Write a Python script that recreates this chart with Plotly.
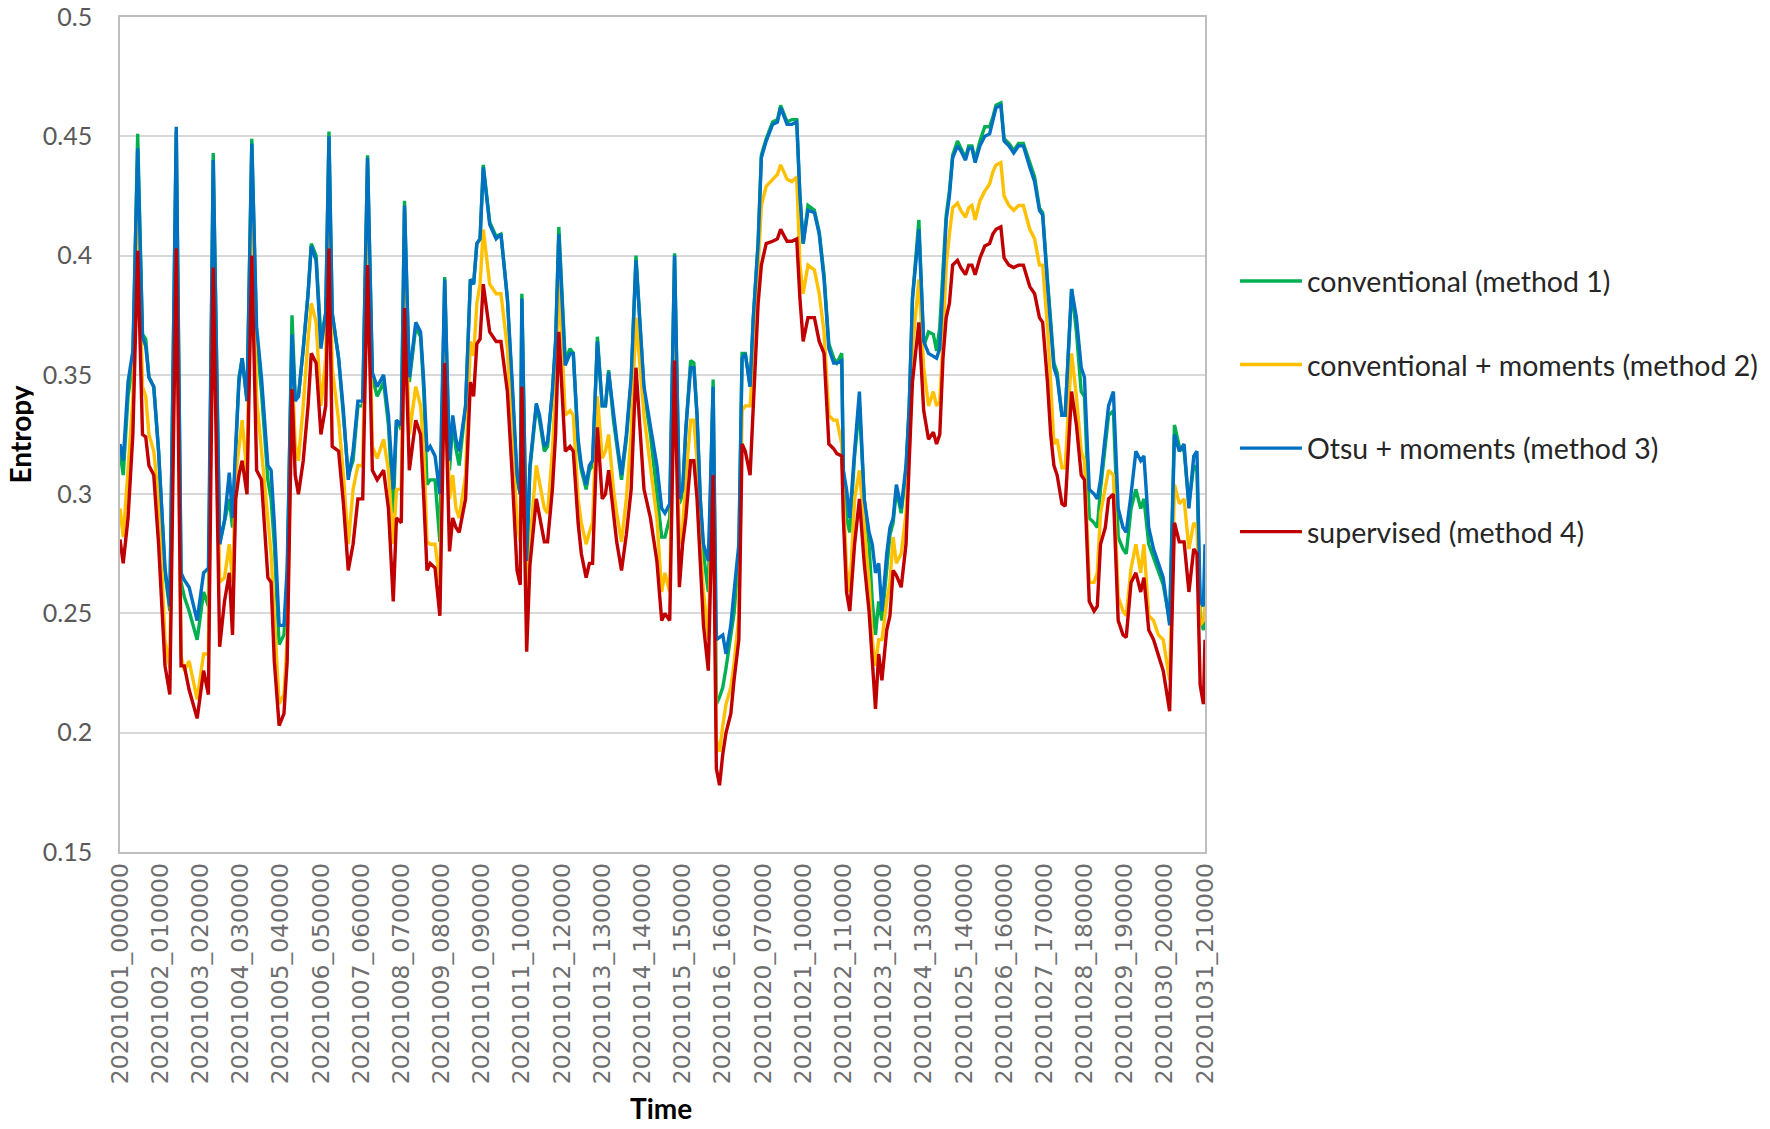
import plotly.graph_objects as go

# sample position (hour index along the category axis)
hour_index = [0, 2, 5, 8, 11, 14, 16, 18, 21, 24, 28, 31, 35, 38, 40, 43, 48, 52, 55, 58,
              62, 65, 68, 70, 72, 74, 76, 79, 82, 85, 88, 92, 94, 96, 99, 102, 104, 107, 109, 111,
              114, 117, 119, 122, 125, 128, 130, 132, 136, 139, 142, 145, 148, 151, 154, 157, 160, 164, 167, 170,
              172, 175, 177, 180, 184, 187, 189, 191, 193, 196, 199, 202, 205, 207, 209, 211, 215, 218, 220, 222,
              224, 226, 230, 234, 237, 241, 244, 247, 249, 250, 253, 255, 259, 261, 264, 266, 269, 271, 273, 277,
              280, 282, 285, 287, 290, 292, 294, 297, 300, 302, 304, 307, 309, 312, 315, 318, 321, 326, 330, 334, 337,
              339, 342, 345, 348, 350, 352, 355, 357, 359, 361, 363, 366, 369, 371, 373, 375, 377, 380, 382, 385,
              387, 389, 392, 394, 397, 399, 402, 406, 409, 411, 415, 418, 421, 423, 425, 428, 432, 435, 438, 441,
              444, 446, 449, 450, 452, 454, 457, 460, 463, 466, 468, 470, 472, 474, 477, 479, 481, 483, 486, 489,
              491, 493, 497, 500, 503, 506,
              508, 510, 512, 514, 516, 518, 521, 523, 526, 528, 530, 532, 535, 538, 541, 543, 545, 548, 550, 553,
              556, 559, 562, 566, 569, 572, 574, 577, 579, 581, 583, 586, 588, 592, 595, 598, 600, 603, 606, 608,
              610, 613, 615, 618, 621, 624, 626, 629, 632, 635, 637, 640, 643, 646, 649, 653, 656, 659, 662, 665,
              668, 670, 672, 674, 675]

conventional = [
    .318, .308, .341, .355, .451, .367, .365, .349, .345, .318, .267, .251, .452, .263, .257, .251, .239, .259, .253, .443,
    .279, .289, .298, .286, .319, .349, .357, .339, .449, .365, .343, .306, .298, .279, .237, .241, .263, .375, .341, .341,
    .361, .384, .405, .400, .365, .376, .452, .376, .357, .333, .308, .314, .337, .337, .442, .349, .341, .347, .329, .292,
    .331, .327, .423, .347, .370, .366, .343, .304, .306, .306, .280, .391, .310, .331, .319, .312, .337, .390, .388, .405,
    .407, .438, .414, .408, .409, .382, .345, .306, .300, .384, .270, .310, .337, .331, .318, .320, .343, .364, .412, .356,
    .361, .359, .320, .310, .302, .310, .312, .366, .337, .337, .352, .331, .321, .306, .323, .347, .400, .343, .325, .302, .282,
    .282, .290, .401, .296, .300, .327, .356, .355, .333, .298, .275, .259, .348, .212, .215, .219, .227, .240, .250, .275,
    .359, .359, .345, .374, .406, .442, .449, .456, .457, .463, .456, .457, .457, .425, .405, .421, .419, .410, .392, .363,
    .357, .355, .359, .310, .290, .284, .316, .337, .298, .279, .255, .241, .255, .247, .270, .283, .288, .302, .292, .310,
    .337, .382, .415, .362, .368, .367,
    .360, .370, .394, .417, .427, .442, .448, .445, .441, .446, .446, .440, .448, .454, .454, .458, .463, .464, .449, .447,
    .444, .447, .447, .439, .433, .420, .418, .390, .372, .355, .351, .333, .333, .386, .368, .343, .341, .290, .288, .286,
    .302, .321, .333, .335, .282, .277, .275, .294, .302, .294, .298, .279, .273, .268, .262, .247, .329, .320, .318, .296,
    .312, .310, .249, .243, .249]

conventional_moments = [
    .294, .282, .310, .340, .427, .345, .341, .325, .318, .298, .239, .227, .429, .232, .226, .230, .214, .233, .233, .420,
    .263, .265, .279, .263, .308, .320, .331, .308, .428, .340, .318, .288, .275, .249, .212, .216, .239, .353, .321, .314,
    .337, .365, .380, .372, .337, .357, .429, .353, .331, .308, .279, .302, .312, .312, .423, .320, .315, .323, .310, .279,
    .302, .302, .392, .325, .345, .337, .318, .280, .279, .279, .263, .360, .298, .308, .294, .290, .308, .364, .358, .380,
    .388, .411, .388, .384, .384, .361, .327, .288, .280, .360, .259, .280, .312, .304, .294, .292, .318, .345, .390, .333,
    .335, .333, .298, .288, .279, .284, .288, .341, .315, .318, .325, .302, .292, .280, .298, .325, .374, .333, .311, .290, .259,
    .267, .259, .376, .279, .286, .306, .331, .331, .314, .279, .259, .239, .320, .197, .192, .203, .212, .219, .229, .249,
    .335, .337, .337, .357, .392, .421, .429, .432, .434, .438, .432, .431, .433, .396, .384, .396, .394, .384, .368, .333,
    .331, .331, .321, .300, .269, .259, .298, .310, .286, .263, .239, .228, .239, .239, .255, .263, .282, .271, .275, .292,
    .318, .361, .390, .353, .337, .343,
    .337, .339, .364, .396, .409, .420, .422, .419, .416, .420, .421, .415, .423, .427, .430, .435, .438, .439, .425, .421,
    .419, .421, .421, .411, .407, .396, .396, .370, .347, .321, .323, .311, .311, .359, .341, .318, .314, .263, .263, .267,
    .292, .302, .310, .308, .257, .251, .249, .269, .279, .267, .279, .249, .247, .241, .239, .222, .304, .296, .298, .277,
    .288, .286, .245, .247, .253]

otsu_moments = [
    .321, .314, .347, .360, .445, .366, .362, .349, .345, .318, .269, .253, .454, .267, .264, .261, .247, .267, .269, .440,
    .279, .289, .309, .290, .321, .347, .357, .339, .447, .370, .349, .312, .310, .288, .245, .245, .269, .367, .339, .341,
    .361, .384, .404, .398, .361, .376, .450, .376, .357, .335, .306, .318, .339, .339, .441, .351, .345, .350, .333, .302,
    .331, .329, .421, .349, .372, .368, .347, .318, .320, .316, .300, .390, .314, .333, .323, .318, .337, .390, .388, .405,
    .407, .437, .413, .407, .409, .382, .347, .308, .300, .382, .272, .312, .338, .333, .320, .322, .343, .364, .409, .354,
    .359, .359, .323, .312, .304, .312, .314, .364, .337, .337, .351, .333, .323, .308, .325, .349, .398, .345, .329, .312, .294,
    .292, .296, .400, .298, .302, .327, .353, .353, .333, .298, .279, .272, .345, .239, .240, .241, .233, .245, .259, .279,
    .357, .359, .345, .374, .405, .441, .448, .455, .456, .462, .455, .455, .456, .425, .405, .419, .418, .409, .390, .361,
    .355, .355, .356, .310, .302, .290, .318, .343, .298, .284, .279, .267, .271, .251, .275, .286, .290, .304, .294, .312,
    .337, .382, .411, .364, .359, .358,
    .357, .361, .392, .415, .425, .441, .446, .444, .440, .445, .445, .439, .446, .450, .451, .457, .462, .463, .448, .446,
    .443, .446, .446, .437, .431, .419, .417, .388, .370, .353, .349, .333, .333, .386, .374, .353, .349, .302, .300, .298,
    .306, .325, .337, .343, .294, .286, .284, .300, .318, .314, .316, .286, .277, .271, .265, .245, .325, .318, .321, .294,
    .316, .318, .255, .253, .279]

supervised = [
    .281, .271, .290, .325, .402, .325, .324, .312, .308, .279, .228, .216, .403, .228, .228, .218, .206, .226, .216, .395,
    .236, .255, .267, .241, .298, .308, .314, .300, .400, .310, .306, .265, .263, .230, .203, .208, .230, .344, .308, .300,
    .314, .337, .359, .355, .325, .337, .403, .320, .318, .296, .268, .279, .298, .298, .396, .310, .306, .310, .294, .255,
    .290, .288, .378, .310, .331, .325, .298, .268, .271, .269, .249, .355, .276, .290, .286, .284, .298, .347, .341, .363,
    .365, .388, .368, .364, .364, .343, .308, .268, .262, .345, .234, .270, .298, .290, .280, .280, .302, .325, .368, .318,
    .320, .318, .288, .275, .265, .271, .271, .328, .298, .300, .310, .292, .280, .268, .283, .302, .353, .302, .290, .272, .247,
    .250, .247, .356, .261, .279, .290, .314, .314, .298, .269, .245, .226, .308, .185, .178, .191, .200, .208, .222, .239,
    .321, .318, .308, .337, .380, .396, .405, .406, .407, .411, .406, .406, .407, .382, .364, .374, .374, .364, .359, .321,
    .319, .317, .316, .290, .259, .251, .279, .298, .271, .251, .228, .210, .233, .222, .243, .249, .268, .266, .261, .279,
    .314, .347, .372, .335, .323, .326,
    .321, .325, .357, .374, .380, .396, .398, .395, .392, .396, .396, .392, .399, .404, .405, .409, .411, .412, .399, .396,
    .395, .396, .396, .387, .384, .374, .372, .347, .325, .312, .308, .296, .295, .343, .329, .308, .306, .255, .251, .253,
    .279, .286, .298, .300, .247, .241, .240, .263, .267, .259, .265, .243, .239, .232, .226, .209, .288, .280, .280, .259,
    .277, .275, .220, .212, .239]

tick_labels = ["20201001_000000", "20201002_010000", "20201003_020000", "20201004_030000",
               "20201005_040000", "20201006_050000", "20201007_060000", "20201008_070000",
               "20201009_080000", "20201010_090000", "20201011_100000", "20201012_120000",
               "20201013_130000", "20201014_140000", "20201015_150000", "20201016_160000",
               "20201020_070000", "20201021_100000", "20201022_110000", "20201023_120000",
               "20201024_130000", "20201025_140000", "20201026_160000", "20201027_170000",
               "20201028_180000", "20201029_190000", "20201030_200000", "20201031_210000"]
label_every = 25
tick_positions = [i * label_every for i in range(len(tick_labels))]

series_names = ["conventional (method 1)", "conventional + moments (method 2)",
                "Otsu + moments (method 3)", "supervised (method 4)"]
series_values = [conventional, conventional_moments, otsu_moments, supervised]
series_colors = ["#00B050", "#FFC000", "#0070C0", "#C00000"]

fig = go.Figure()
for name, vals, col in zip(series_names, series_values, series_colors):
    assert len(vals) == len(hour_index), (name, len(vals), len(hour_index))
    fig.add_trace(go.Scatter(x=hour_index, y=vals, mode="lines", name=name,
                             legendgroup=name,
                             line=dict(color=col, width=3.4)))

W, H = 1770, 1129
L, T = 120, 17
PW, PH = 1085, 835
R, B = W - L - PW, H - T - PH
fig.update_layout(
    width=W, height=H,
    margin=dict(l=L, r=R, t=T, b=B, pad=0, autoexpand=False),
    paper_bgcolor="white", plot_bgcolor="white",
    showlegend=True,
    legend=dict(x=1.0276, y=0.7138, xanchor="left", yanchor="top",
                font=dict(family="Lato", size=28.5, color="#262626"),
                itemwidth=62,
                tracegroupgap=43.5, bgcolor="rgba(0,0,0,0)"),
    annotations=[
        dict(text="<b>Entropy</b>", x=-0.093, y=0.5, xref="paper", yref="paper",
             textangle=-90, showarrow=False, xanchor="center", yanchor="middle",
             height=28,
             font=dict(family="Lato", size=28, color="#000000")),
        dict(text="<b>Time</b>", x=0.4986, y=-0.3066, xref="paper", yref="paper",
             showarrow=False, xanchor="center", yanchor="middle",
             height=30,
             font=dict(family="Lato", size=28, color="#000000")),
    ],
)
fig.update_xaxes(range=[0, tick_positions[-1]], tickmode="array",
                 tickvals=tick_positions, ticktext=tick_labels, tickangle=-90,
                 tickfont=dict(family="DejaVu Sans", size=23.5, color="#6E6E6E"),
                 showgrid=False, zeroline=False, showline=True, linecolor="#BFBFBF",
                 linewidth=1.5, mirror=True, ticks="", automargin=False,
                 ticklabeloverflow="allow")
fig.update_yaxes(range=[0.15, 0.5], dtick=0.05, tick0=0.15,
                 tickfont=dict(family="Lato", size=25, color="#595959"),
                 showgrid=True, gridcolor="#D9D9D9", gridwidth=1.5,
                 zeroline=False, showline=True, linecolor="#BFBFBF", linewidth=1.5,
                 mirror=True, ticks="", ticklabelstandoff=21, automargin=False,
                 ticklabeloverflow="allow")

# remove the browser's default page margin so the 1770x1129 figure fills the window exactly
fig.write_html("out.html", config={"displayModeBar": False},
               post_script="document.body.style.margin='0';")
